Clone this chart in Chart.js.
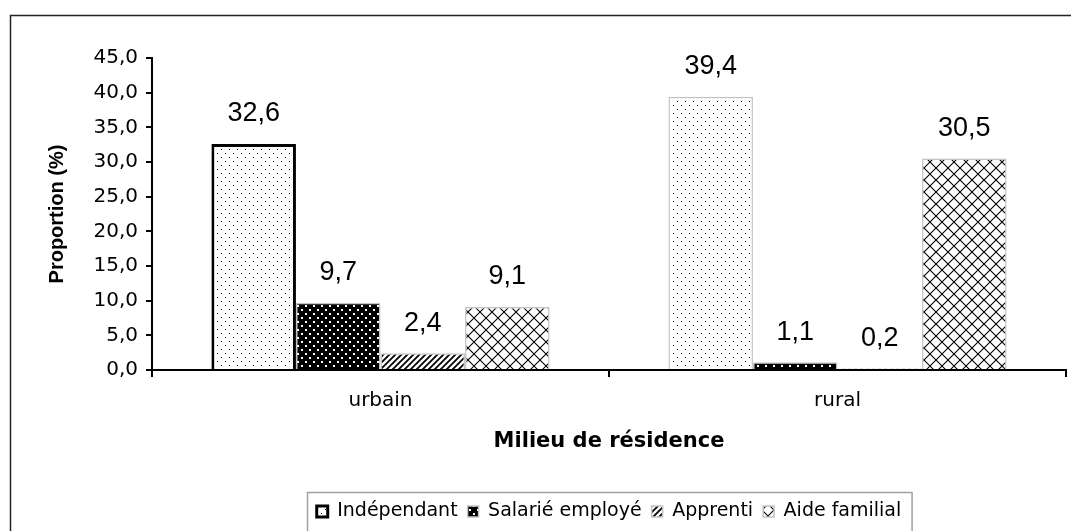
<!DOCTYPE html>
<html>
<head>
<meta charset="utf-8">
<script src="https://cdn.jsdelivr.net/npm/chart.js@4/dist/chart.umd.min.js"></script>
<style>
  body { margin: 0; background: #fff; }
  #chart { display: block; }
</style>
</head>
<body>
<canvas id="chart" width="1071" height="531"></canvas>
<script>
// data
const categories = ['urbain', 'rural'];
const seriesNames = ['Indépendant', 'Salarié employé', 'Apprenti', 'Aide familial'];
const independant = [32.6, 39.4];
const salarie = [9.7, 1.1];
const apprenti = [2.4, 0.2];
const aideFamilial = [9.1, 30.5];
const yTickLabels = ['0,0', '5,0', '10,0', '15,0', '20,0', '25,0', '30,0', '35,0', '40,0', '45,0'];

const fmt = v => v.toFixed(1).replace('.', ',');

// little fill patterns, like the old office hatches
function makePattern(w, h, draw) {
    const c = document.createElement('canvas');
    c.width = w;
    c.height = h;
    const g = c.getContext('2d');
    draw(g);
    return g.createPattern(c, 'repeat');
}

const dotsLight = makePattern(8, 8, g => {
    g.fillStyle = '#fff';
    g.fillRect(0, 0, 8, 8);
    g.fillStyle = '#000';
    g.fillRect(1, 1, 1, 1);
    g.fillRect(5, 5, 1, 1);
});

const dotsDark = makePattern(8, 8, g => {
    g.fillStyle = '#000';
    g.fillRect(0, 0, 8, 8);
    g.fillStyle = '#fff';
    g.fillRect(1, 1, 2, 2);
    g.fillRect(5, 5, 2, 2);
});

const hatch = makePattern(6, 6, g => {
    g.fillStyle = '#fff';
    g.fillRect(0, 0, 6, 6);
    g.strokeStyle = '#000';
    g.lineWidth = 1.8;
    g.beginPath();
    g.moveTo(0, 6); g.lineTo(6, 0);
    g.moveTo(-1, 1); g.lineTo(1, -1);
    g.moveTo(5, 7); g.lineTo(7, 5);
    g.stroke();
});

const cross = makePattern(12, 12, g => {
    g.fillStyle = '#fff';
    g.fillRect(0, 0, 12, 12);
    g.strokeStyle = '#000';
    g.lineWidth = 1.1;
    g.beginPath();
    g.moveTo(0, 0); g.lineTo(12, 12);
    g.moveTo(0, 12); g.lineTo(12, 0);
    g.stroke();
});

// bar edges: only the first urban bar has the heavy black outline
const edge = ctx => {
    if (ctx.type !== 'data') return '#000';
    return (ctx.datasetIndex === 0 && ctx.dataIndex === 0) ? '#000' : '#c4c4c4';
};
const edgeWidth = ctx => {
    if (ctx.type !== 'data') return 1;
    return (ctx.datasetIndex === 0 && ctx.dataIndex === 0) ? 3 : 1.5;
};

// white page with the outer frame
const frame = {
    id: 'frame',
    beforeDraw(chart) {
        const c = chart.ctx;
        c.save();
        c.fillStyle = '#fff';
        c.fillRect(0, 0, chart.width, chart.height);
        c.strokeStyle = '#222';
        c.lineWidth = 1.5;
        c.beginPath();
        c.moveTo(10.5, chart.height + 5);
        c.lineTo(10.5, 15.5);
        c.lineTo(chart.width + 5, 15.5);
        c.stroke();
        c.restore();
    },
    afterDraw(chart) {
        // box round the legend
        const lg = chart.legend;
        const boxes = lg.legendHitBoxes;
        if (!boxes || !boxes.length) return;
        const left = Math.min(...boxes.map(b => b.left)) - 10;
        const right = Math.max(...boxes.map(b => b.left + b.width)) + 10;
        const c = chart.ctx;
        c.save();
        c.strokeStyle = '#a0a0a0';
        c.lineWidth = 1.5;
        c.strokeRect(Math.round(left) + 0.5, Math.round(lg.top) + 0.5, right - left, chart.height);
        c.restore();
    }
};

// numbers above the bars
const valueLabels = {
    id: 'valueLabels',
    afterDatasetsDraw(chart) {
        const c = chart.ctx;
        c.save();
        c.font = '27px "Liberation Sans", Arial, sans-serif';
        c.fillStyle = '#000';
        c.textAlign = 'center';
        c.textBaseline = 'middle';
        chart.data.datasets.forEach((ds, i) => {
            chart.getDatasetMeta(i).data.forEach((bar, j) => {
                c.fillText(fmt(ds.data[j]), bar.x, bar.y - 30);
            });
        });
        c.restore();
    }
};

const ctx = document.getElementById('chart').getContext('2d');

const myChart = new Chart(ctx, {
    type: 'bar',
    data: {
        labels: categories,
        datasets: [
            { label: seriesNames[0], data: independant, backgroundColor: dotsLight },
            { label: seriesNames[1], data: salarie, backgroundColor: dotsDark },
            { label: seriesNames[2], data: apprenti, backgroundColor: hatch },
            { label: seriesNames[3], data: aideFamilial, backgroundColor: cross }
        ].map(ds => Object.assign(ds, {
            borderColor: edge,
            borderWidth: edgeWidth,
            categoryPercentage: 0.74,
            barPercentage: 1
        }))
    },
    options: {
        responsive: false,
        animation: false,
        devicePixelRatio: 1,
        layout: { padding: { top: 58, right: 5, left: 0, bottom: 0 } },
        plugins: {
            tooltip: { enabled: false },
            legend: {
                position: 'bottom',
                fullSize: false,
                labels: {
                    color: '#000',
                    font: { family: '"DejaVu Sans"', size: 19 },
                    boxWidth: 11,
                    boxHeight: 11,
                    padding: 10
                }
            }
        },
        scales: {
            x: {
                afterFit: scale => { scale.height = 122; },
                border: { color: '#000', width: 2 },
                grid: { drawOnChartArea: false, drawTicks: true, tickLength: 7, color: '#000', lineWidth: 2, offset: true },
                ticks: { color: '#000', padding: 12, font: { family: '"DejaVu Sans"', size: 20 } },
                title: {
                    display: true,
                    text: 'Milieu de résidence',
                    color: '#000',
                    font: { family: '"DejaVu Sans"', size: 21, weight: 'bold' },
                    padding: { top: 0, bottom: 38 }
                }
            },
            y: {
                min: 0,
                max: 45,
                afterFit: scale => { scale.width = 152; },
                border: { color: '#000', width: 2 },
                grid: { drawOnChartArea: false, drawTicks: true, tickLength: 6, color: '#000', lineWidth: 2 },
                ticks: {
                    stepSize: 5,
                    color: '#000',
                    padding: 8,
                    font: { family: '"DejaVu Sans"', size: 20 },
                    callback: (v, i) => yTickLabels[i]
                },
                title: {
                    display: true,
                    text: 'Proportion (%)',
                    color: '#000',
                    font: { family: '"Liberation Sans", Arial', size: 20, weight: 'bold' },
                    padding: { top: 45, bottom: 0 }
                }
            }
        }
    },
    plugins: [frame, valueLabels]
});
</script>
</body>
</html>
